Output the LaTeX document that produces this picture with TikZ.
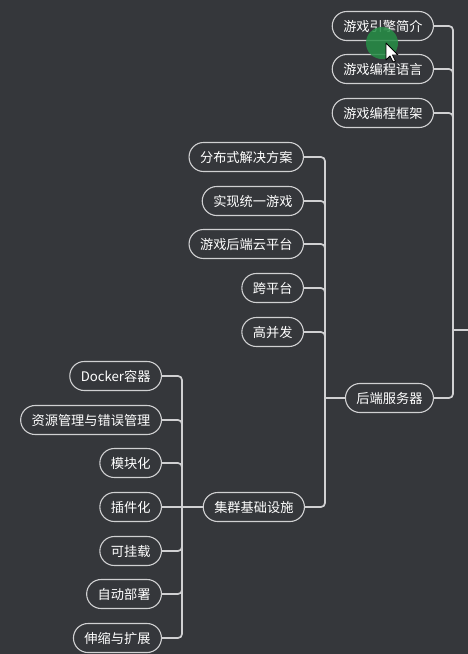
\documentclass[tikz,border=0pt]{standalone}
\usepackage{fontspec}
\setmainfont{Noto Sans CJK SC}
\usepackage{xcolor}
\usepackage{tikz}
\usetikzlibrary{positioning, calc}

\definecolor{bgdark}{RGB}{53,55,59}
\definecolor{linegrey}{RGB}{208,208,210}
\definecolor{hlgreen}{RGB}{38,142,70}

\begin{document}
\begin{tikzpicture}[x=1pt, y=-1pt,
  topic/.style={draw=linegrey, line width=1.1pt, rounded corners=14.5pt, minimum height=29pt, inner xsep=11pt, text=white, font=\fontsize{13.2}{15}\selectfont, anchor=east},
  link/.style={draw=linegrey, line width=1.7pt},
  elbow/.style={link, rounded corners=4pt}
]
\fill[bgdark] (0,0) rectangle (468,654);
\useasboundingbox (0,0) rectangle (468,654);

% top level branches
\node[topic] (yinqing) at (434,26) {游戏引擎简介};
\node[topic] (yuyan) at (434,69) {游戏编程语言};
\node[topic] (kuangjia) at (434,113) {游戏编程框架};
\node[topic] (houduan) at (434,398) {后端服务器};

% children of the server branch
\node[topic] (fenbu) at (304,157) {分布式解决方案};
\node[topic] (tongyi) at (304,201) {实现统一游戏};
\node[topic] (yunpt) at (304,244) {游戏后端云平台};
\node[topic] (kuapt) at (304,288) {跨平台};
\node[topic] (gaobf) at (304,332) {高并发};
\node[topic] (jiqun) at (305,507) {集群基础设施};

% children of the cluster branch
\node[topic] (docker) at (162,376) {Docker容器};
\node[topic] (ziyuan) at (162,420) {资源管理与错误管理};
\node[topic] (mokuai) at (162,463) {模块化};
\node[topic] (chajian) at (162,507) {插件化};
\node[topic] (guazai) at (162,551) {可挂载};
\node[topic] (bushu) at (162,594) {自动部署};
\node[topic] (shensuo) at (162,638) {伸缩与扩展};

% junctions
\coordinate (root) at (470,330);
\coordinate (jTop) at (453,330);
\coordinate (jHou) at (325,398);
\coordinate (jJi) at (182,507);

\draw[link] (jTop) -- (root);
\draw[elbow] (jTop) |- (yinqing.east);
\draw[elbow] (jTop) |- (yuyan.east);
\draw[elbow] (jTop) |- (kuangjia.east);
\draw[elbow] (jTop) |- (houduan.east);

\draw[link] (houduan.west) -- (jHou);
\draw[elbow] (jHou) |- (fenbu.east);
\draw[elbow] (jHou) |- (tongyi.east);
\draw[elbow] (jHou) |- (yunpt.east);
\draw[elbow] (jHou) |- (kuapt.east);
\draw[elbow] (jHou) |- (gaobf.east);
\draw[elbow] (jHou) |- (jiqun.east);

\draw[link] (jiqun.west) -- (jJi);
\draw[elbow] (jJi) |- (docker.east);
\draw[elbow] (jJi) |- (ziyuan.east);
\draw[elbow] (jJi) |- (mokuai.east);
\draw[link] (jJi) -- (chajian.east);
\draw[elbow] (jJi) |- (guazai.east);
\draw[elbow] (jJi) |- (bushu.east);
\draw[elbow] (jJi) |- (shensuo.east);

% pointer highlight
\fill[hlgreen, opacity=0.85] (382,43) circle (16);
\filldraw[fill=white, draw=black, line width=0.8pt, line join=round]
  (386,43) -- (386,60) -- (390,56) -- (393,62) -- (395.5,61) -- (392.5,55) -- (398,55) -- cycle;
\end{tikzpicture}
\end{document}
